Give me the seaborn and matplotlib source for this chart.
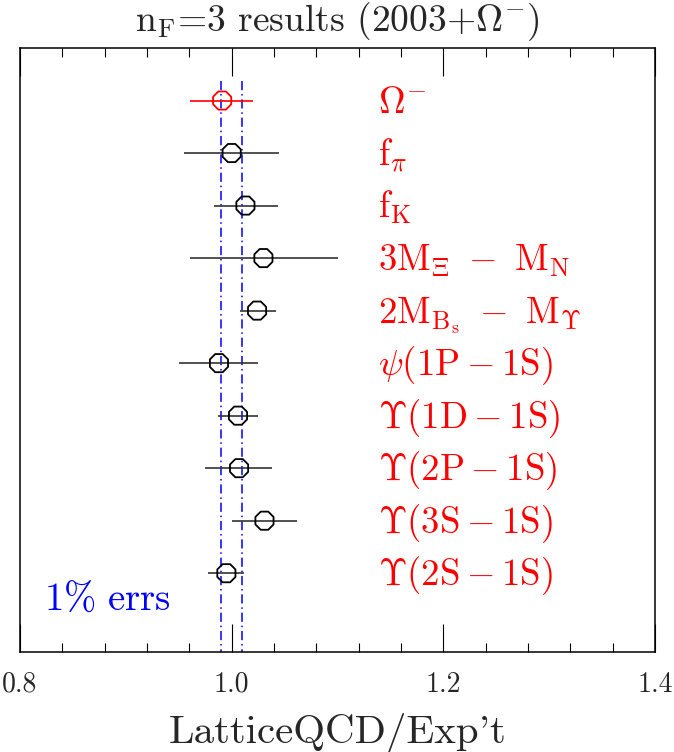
import numpy as np
import pandas as pd
import matplotlib
matplotlib.use('Agg')
import matplotlib.pyplot as plt
from matplotlib.ticker import MultipleLocator
import seaborn as sns

# quantities, top to bottom
labels = [r'$\Omega^{-}$', r'$\mathrm{f}_{\pi}$', r'$\mathrm{f_K}$',
          r'$\mathrm{3M_{\Xi}\ -\ M_N}$', r'$\mathrm{2M_{B_s}\ -\ M_{\Upsilon}}$',
          r'$\psi\mathrm{(1P-1S)}$', r'$\Upsilon\mathrm{(1D-1S)}$',
          r'$\Upsilon\mathrm{(2P-1S)}$', r'$\Upsilon\mathrm{(3S-1S)}$',
          r'$\Upsilon\mathrm{(2S-1S)}$']
ratio = [0.991, 1.000, 1.013, 1.030, 1.024, 0.988, 1.006, 1.007, 1.031, 0.995]
err_lo = [0.961, 0.955, 0.983, 0.961, 1.008, 0.950, 0.987, 0.975, 1.000, 0.978]
err_hi = [1.020, 1.045, 1.044, 1.100, 1.042, 1.025, 1.025, 1.038, 1.062, 1.012]
is_new = [True, False, False, False, False, False, False, False, False, False]
band = [0.99, 1.01]

df = pd.DataFrame({'label': labels, 'ratio': ratio, 'lo': err_lo, 'hi': err_hi,
                   'new': is_new})
df['pos'] = np.arange(len(df))

sns.set_theme(style='ticks')
plt.rcParams['font.family'] = ['cmr10']
plt.rcParams['mathtext.fontset'] = 'cm'
plt.rcParams['axes.formatter.use_mathtext'] = True

fig = plt.figure(figsize=(6.74, 7.52), dpi=100)
ax = fig.add_axes([20 / 674, 1 - 652 / 752, 635 / 674, 604 / 752])

red = '#ff0000'
blue = '#0000ff'

# 1% band
for b in band:
    ax.vlines(b, -0.38, 10.5, color=blue, lw=1.1, linestyles=(0, (6, 2.5, 1, 2.5)))

for new, grp in df.groupby('new'):
    col = red if new else 'black'
    ax.hlines(grp['pos'], grp['lo'], grp['hi'], color=red if new else '#333333', lw=1.2)
    sns.scatterplot(data=grp, x='ratio', y='pos', marker='8', s=200,
                    facecolor='none', edgecolor=col, linewidth=1.3, ax=ax, zorder=3)

for _, r in df.iterrows():
    ax.text(1.138, r['pos'] + 0.235, r['label'], color=red, fontsize=26.5,
            ha='left', va='baseline')

ax.text(0.8225, 9.51, r'$\mathrm{1\%\ errs}$', color=blue, fontsize=28,
        ha='left', va='center')

ax.set_xlim(0.8, 1.4)
ax.set_ylim(10.5, -1.0)
ax.xaxis.set_minor_locator(MultipleLocator(0.04))
ax.set_xticks([0.8, 1.0, 1.2, 1.4])
ax.set_xticklabels(['0.8', '1.0', '1.2', '1.4'])
ax.set_yticks([])
ax.tick_params(axis='x', which='both', direction='in', top=True, bottom=True,
               labelsize=20, pad=14, color='black')
ax.tick_params(axis='x', which='major', length=20, width=0.8)
ax.tick_params(axis='x', which='minor', length=6.5, width=0.8)
for s in ax.spines.values():
    s.set_linewidth(1.1)
    s.set_color('black')
ax.set_xlabel("LatticeQCD/Exp't", fontsize=29.5, labelpad=11)
ax.set_ylabel('')
ax.set_title(r'$\mathrm{n_F}$=3 results (2003+$\Omega^{-}$)', fontsize=27, pad=12)

fig.savefig('out.png', dpi=100)
